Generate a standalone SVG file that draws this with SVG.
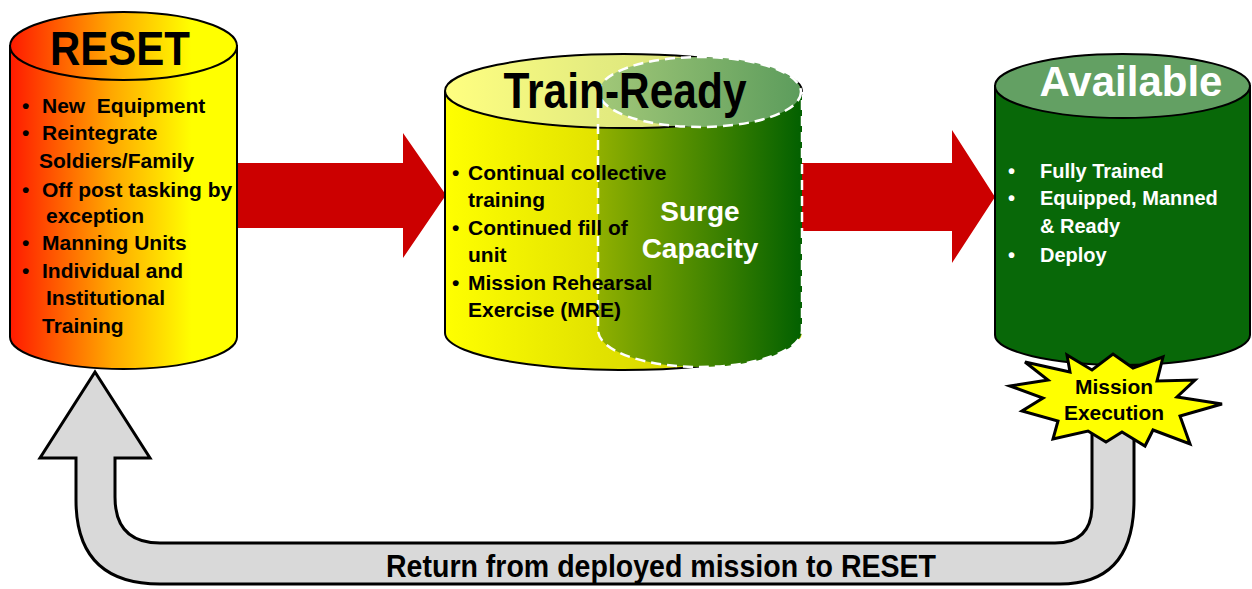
<svg xmlns="http://www.w3.org/2000/svg" width="1252" height="589" viewBox="0 0 1252 589">
<defs>
<linearGradient id="gReset" x1="10" y1="0" x2="237" y2="0" gradientUnits="userSpaceOnUse">
<stop offset="0" stop-color="#ff1a00"/>
<stop offset="0.45" stop-color="#ffa800"/>
<stop offset="0.8" stop-color="#ffff00"/>
<stop offset="1" stop-color="#ffff00"/>
</linearGradient>
<linearGradient id="gTrBody" x1="445" y1="0" x2="802" y2="0" gradientUnits="userSpaceOnUse">
<stop offset="0" stop-color="#ffff00"/>
<stop offset="0.43" stop-color="#e2e200"/>
<stop offset="1" stop-color="#c8c800"/>
</linearGradient>
<linearGradient id="gTrTop" x1="445" y1="0" x2="802" y2="0" gradientUnits="userSpaceOnUse">
<stop offset="0" stop-color="#ffff80"/>
<stop offset="0.43" stop-color="#e4ec80"/>
<stop offset="1" stop-color="#d0d870"/>
</linearGradient>
<linearGradient id="gSurgeBody" x1="598" y1="0" x2="802" y2="0" gradientUnits="userSpaceOnUse">
<stop offset="0" stop-color="#90b000"/>
<stop offset="1" stop-color="#026000"/>
</linearGradient>
<linearGradient id="gSurgeTop" x1="598" y1="0" x2="802" y2="0" gradientUnits="userSpaceOnUse">
<stop offset="0" stop-color="#a2c878"/>
<stop offset="1" stop-color="#5c9c5c"/>
</linearGradient>
<style>
.edge{stroke:#000;stroke-width:2;}
.t{font-family:"Liberation Sans",Arial,sans-serif;font-weight:bold;}
.item{font-size:21px;fill:#000;}
.witem{font-size:20px;fill:#fff;}
.red{fill:#cc0000;}
.dash{fill:none;stroke:#fff;stroke-width:2.5;stroke-dasharray:10 6;}
</style>
</defs>
<rect width="1252" height="589" fill="#fff"/>

<g id="connectors">
<path class="red" d="M230,163 L403,163 L403,133 L446,195 L403,258 L403,228 L230,228 Z"/>
<path class="red" d="M795,163 L952,163 L952,130 L995,197 L952,263 L952,231 L795,231 Z"/>
<path d="M95,372 L150,458 L115,458 L115,497 Q115,543 160,543 L1055,543 Q1092,543 1092,505 L1092,420 L1134,420 L1134,500 Q1134,584 1060,584 L160,584 Q76,584 76,500 L76,458 L40,458 Z" fill="#d9d9d9" stroke="#000" stroke-width="3" stroke-linejoin="miter"/>
<text class="t" x="661" y="577" font-size="31" text-anchor="middle" textLength="550" lengthAdjust="spacingAndGlyphs" fill="#000">Return from deployed mission to RESET</text>
</g>

<g id="node-reset">
<path class="edge" d="M10,46 L10,337 A113.5,32 0 0 0 237,337 L237,46 Z" fill="url(#gReset)"/>
<ellipse class="edge" cx="123.5" cy="46" rx="113.5" ry="34" fill="url(#gReset)"/>
<text class="t" x="120" y="65" font-size="48" text-anchor="middle" textLength="140" lengthAdjust="spacingAndGlyphs">RESET</text>
<g class="t item">
<text x="22" y="113">•</text><text x="42" y="113" xml:space="preserve">New  Equipment</text>
<text x="22" y="140">•</text><text x="42" y="140">Reintegrate</text>
<text x="39" y="168">Soldiers/Family</text>
<text x="22" y="197">•</text><text x="42" y="197">Off post tasking by</text>
<text x="46" y="223">exception</text>
<text x="22" y="250">•</text><text x="42" y="250">Manning Units</text>
<text x="22" y="278">•</text><text x="42" y="278">Individual and</text>
<text x="46" y="305">Institutional</text>
<text x="42" y="333">Training</text>
</g>
</g>

<g id="node-train-ready">
<path d="M445,91 L445,333 A178.5,37 0 0 0 802,333 L802,91 Z" fill="url(#gTrBody)"/>
<path class="edge" d="M445,91 L445,333 A178.5,37 0 0 0 700,366.4" fill="none"/>
<path d="M598,92 L598,330 A102,37 0 0 0 802,330 L802,92 Z" fill="url(#gSurgeBody)"/>
<ellipse class="edge" cx="623.5" cy="91" rx="178.5" ry="37" fill="url(#gTrTop)"/>
<ellipse cx="700" cy="92" rx="101" ry="35" fill="url(#gSurgeTop)"/>
<path class="dash" d="M598,92 L598,330 A102,37 0 0 0 802,330 L802,92"/>
<ellipse class="dash" cx="700" cy="92" rx="101" ry="35"/>
<text class="t" x="625" y="108" font-size="50" text-anchor="middle" textLength="243" lengthAdjust="spacingAndGlyphs">Train-Ready</text>
<g class="t item">
<text x="452" y="180">•</text><text x="468" y="180">Continual collective</text>
<text x="468" y="207">training</text>
<text x="452" y="235">•</text><text x="468" y="235">Continued fill of</text>
<text x="468" y="262">unit</text>
<text x="452" y="290">•</text><text x="468" y="290">Mission Rehearsal</text>
<text x="468" y="317">Exercise (MRE)</text>
</g>
<text class="t" x="700" y="221" font-size="28" fill="#fff" text-anchor="middle">Surge</text>
<text class="t" x="700" y="258" font-size="28" fill="#fff" text-anchor="middle">Capacity</text>
</g>

<g id="node-available">
<path class="edge" d="M995,86 L995,335 A127.5,30 0 0 0 1250,335 L1250,86 Z" fill="#086808"/>
<ellipse class="edge" cx="1122.5" cy="86" rx="127.5" ry="32" fill="#63a063"/>
<text class="t" x="1131" y="96" font-size="42" fill="#fff" text-anchor="middle">Available</text>
<g class="t witem">
<text x="1008" y="178">•</text><text x="1040" y="178">Fully Trained</text>
<text x="1008" y="205">•</text><text x="1040" y="205">Equipped, Manned</text>
<text x="1040" y="233">&amp; Ready</text>
<text x="1008" y="262">•</text><text x="1040" y="262">Deploy</text>
</g>
</g>

<g id="node-mission-execution">
<polygon points="1010,386 1048,380 1025,362 1070,372 1067,355 1092,370 1113,354 1133,368 1163,357 1157,381 1195,380 1177,397 1222,404 1180,416 1190,444 1153,430 1145,446 1122,432 1106,442 1088,431 1053,439 1058,421 1022,411 1043,398" fill="#ffff00" stroke="#000" stroke-width="3" stroke-linejoin="miter"/>
<text class="t" x="1114" y="394" font-size="20" text-anchor="middle" textLength="78" lengthAdjust="spacingAndGlyphs">Mission</text>
<text class="t" x="1114" y="420" font-size="20" text-anchor="middle" textLength="100" lengthAdjust="spacingAndGlyphs">Execution</text>
</g>
</svg>
